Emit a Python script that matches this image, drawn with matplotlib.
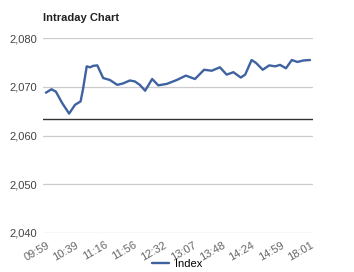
import numpy as np
from matplotlib import pyplot as plt

# positions along the time axis, in label steps (0 = 09:59, 9 = 18:01)
t = [0.00, 0.19, 0.34, 0.55, 0.79, 0.99, 1.18, 1.26, 1.39, 1.50,
     1.61, 1.75, 1.95, 2.18, 2.43, 2.63, 2.86, 3.03, 3.20, 3.38,
     3.62, 3.83, 4.12, 4.46, 4.77, 5.08, 5.39, 5.65, 5.93, 6.16,
     6.39, 6.64, 6.79, 7.01, 7.16, 7.39, 7.61, 7.81, 7.98, 8.18,
     8.38, 8.57, 8.77, 9.00]
index = [2068.8, 2069.5, 2069.0, 2066.7, 2064.5, 2066.3, 2067.0, 2069.4, 2074.2, 2074.0,
         2074.3, 2074.4, 2071.8, 2071.4, 2070.4, 2070.7, 2071.3, 2071.1, 2070.4, 2069.2,
         2071.6, 2070.3, 2070.6, 2071.4, 2072.3, 2071.6, 2073.5, 2073.3, 2074.0, 2072.5,
         2073.0, 2071.9, 2072.5, 2075.5, 2074.9, 2073.5, 2074.4, 2074.2, 2074.5, 2073.8,
         2075.5, 2075.1, 2075.4, 2075.5]
prev_close = 2063.4
time_labels = ['09:59', '10:39', '11:16', '11:56', '12:32', '13:07',
               '13:48', '14:24', '14:59', '18:01']
y_ticks = [2040, 2050, 2060, 2070, 2080]

if __name__ == '__main__':
    plt.rcParams['font.family'] = ['Liberation Sans', 'DejaVu Sans']
    f = plt.figure(figsize=(3.54, 2.72), dpi=100)
    ax = f.add_axes([0.1215, 0.1434, 0.7625, 0.7166])

    for yv in y_ticks:
        ax.axhline(yv, color='#cccccc', lw=0.9, zorder=1)
    ax.axhline(prev_close, color='#333333', lw=1.0, zorder=2)
    ax.plot(t, index, color='#3f62a0', lw=1.7, solid_joinstyle='round',
            solid_capstyle='round', zorder=3, label='Index')

    ax.set_xlim(-0.10, 9.10)
    ax.set_ylim(2040, 2080)
    ax.set_yticks(y_ticks)
    ax.set_yticklabels(['{:,}'.format(v) for v in y_ticks])
    ax.set_xticks(range(len(time_labels)))
    ax.set_xticklabels(time_labels, rotation=30, ha='right',
                       rotation_mode='anchor')
    ax.tick_params(length=0, labelsize=8)
    ax.tick_params(axis='y', pad=4, colors='#444444')
    ax.tick_params(axis='x', pad=5, colors='#666666')
    for s in ax.spines.values():
        s.set_visible(False)

    f.text(0.1215, 0.935, 'Intraday Chart', fontsize=8, fontweight='bold',
           color='#222222', va='center')
    f.legend(loc='lower center', bbox_to_anchor=(0.5, -0.025), frameon=False,
             fontsize=8, handlelength=1.6, handletextpad=0.5)

    f.savefig('out.png', dpi=100)
